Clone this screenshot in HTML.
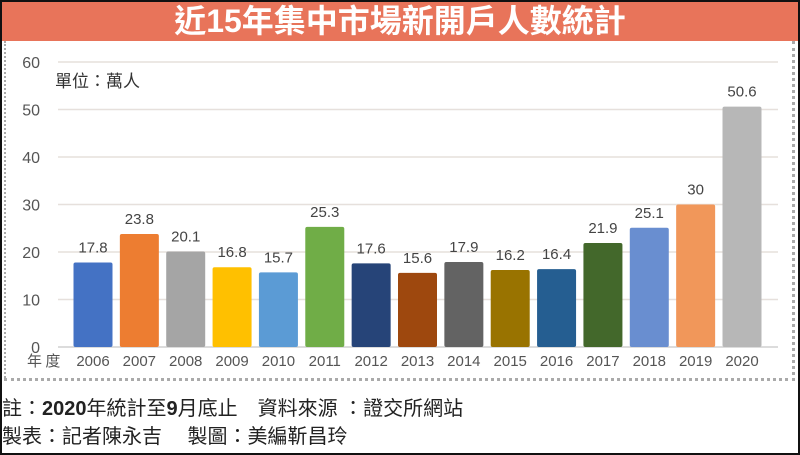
<!DOCTYPE html>
<html><head><meta charset="utf-8">
<style>
html,body{margin:0;padding:0;background:#fff;}
body{width:800px;height:455px;overflow:hidden;position:relative;font-family:"Liberation Sans","Noto Sans CJK TC",sans-serif;}
#frame{position:absolute;left:0;top:0;width:796px;height:451px;border:2px solid #111;}
#banner{position:absolute;left:2px;top:2px;width:796px;height:39px;background:#e8745a;color:#fff;text-align:center;font-size:32px;font-weight:bold;line-height:39px;font-family:"Liberation Sans","Noto Sans CJK TC",sans-serif;}
#panel{position:absolute;left:4px;top:41px;width:786px;height:337px;border-right:3px dotted #aaa;border-bottom:3px dotted #aaa;border-left:2px dotted #aaa;}
.foot{position:absolute;left:2px;font-size:20px;color:#222;}
</style></head><body>
<div id="frame"></div>
<div id="banner">近15年集中市場新開戶人數統計</div>
<div id="panel"></div>
<svg id="chart" width="800" height="455" style="position:absolute;left:0;top:0"></svg>
<div class="foot" style="top:392px">註：<b>2020</b>年統計至<b>9</b>月底止　資料來源 ：證交所網站</div>
<div class="foot" style="top:420px">製表：記者陳永吉　 製圖：美編靳昌玲</div>
<script>
const categories=["2006","2007","2008","2009","2010","2011","2012","2013","2014","2015","2016","2017","2018","2019","2020"];
const values=[17.8,23.8,20.1,16.8,15.7,25.3,17.6,15.6,17.9,16.2,16.4,21.9,25.1,30,50.6];
const valueLabels=["17.8","23.8","20.1","16.8","15.7","25.3","17.6","15.6","17.9","16.2","16.4","21.9","25.1","30","50.6"];
const yTicks=[0,10,20,30,40,50,60];
const colors=["#4472c4","#ed7d31","#a5a5a5","#ffc000","#5b9bd5","#70ad47","#264478","#9e480e","#636363","#997300","#255e91","#43682b","#698ed0","#f1975a","#b7b7b7"];
const NS="http://www.w3.org/2000/svg";
const svg=document.getElementById('chart');
const y0=347,y60=62,xL=58,xR=778;
const yScale=v=>y0-(v/60)*(y0-y60);
const step=(742-93)/14;
const xCenter=i=>93+i*step;
const bw=39;
function mk(t,a){const e=document.createElementNS(NS,t);for(const k in a)e.setAttribute(k,a[k]);svg.appendChild(e);return e;}
yTicks.forEach(t=>{
  const y=yScale(t);
  const g=mk('line',{x1:xL,x2:xR,y1:y,y2:y,stroke:t===0?'#d0d0d0':'#e6e0dc','stroke-width':1.5});
  
  
  const tx=mk('text',{x:40,y:y+6,'text-anchor':'end','font-size':16,fill:'#555','font-family':'Liberation Sans, sans-serif'});
  tx.textContent=t;
  
  
});
categories.forEach((c,i)=>{
  const x=xCenter(i),y=yScale(values[i]);
  const r=mk('rect',{x:x-bw/2,y:y,width:bw,height:y0-y,fill:colors[i],rx:2});
  
  
  const l=mk('text',{x:x,y:y-10,'text-anchor':'middle','font-size':15,fill:'#444','font-family':'Liberation Sans, sans-serif'});
  l.textContent=valueLabels[i];
  
  
  const xl=mk('text',{x:x,y:366,'text-anchor':'middle','font-size':15,fill:'#555','font-family':'Liberation Sans, sans-serif'});
  xl.textContent=c;
  
  
});
const xt=mk('text',{x:27,y:366,'font-size':15,fill:'#555','font-family':'Noto Sans CJK TC, sans-serif'});
xt.textContent='年 度';


const un=mk('text',{x:55,y:87,'font-size':17,fill:'#333','font-family':'Liberation Sans, Noto Sans CJK TC, sans-serif'});
un.textContent='單位：萬人';


</script>
</body></html>
